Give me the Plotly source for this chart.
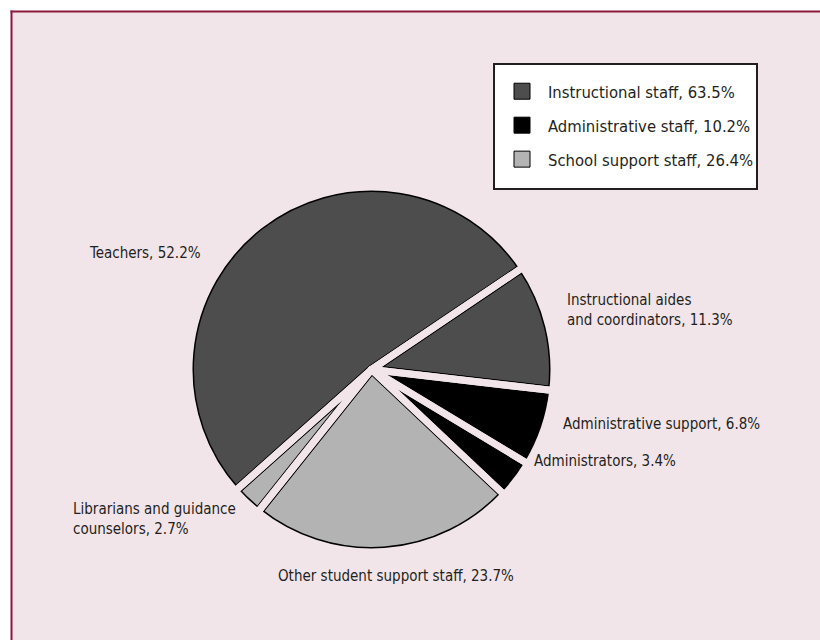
import plotly.graph_objects as go

# ---- data ----
slice_labels = [
    "Instructional aides<br>and coordinators, 11.3%",
    "Administrative support, 6.8%",
    "Administrators, 3.4%",
    "Other student support staff, 23.7%",
    "Librarians and guidance<br>counselors, 2.7%",
    "Teachers, 52.2%",
]
slice_values = [11.3, 6.8, 3.4, 23.7, 2.7, 52.2]
slice_group = ["Instructional", "Administrative", "Administrative", "Support", "Support", "Instructional"]

group_names = ["Instructional staff, 63.5%", "Administrative staff, 10.2%", "School support staff, 26.4%"]
group_keys = ["Instructional", "Administrative", "Support"]

# ---- styles / layout ----
W, H = 820, 640
BG = "#f2e5e9"
TXT = "#231f20"
FONT = "DejaVu Sans Condensed, Liberation Sans Narrow, Arial Narrow, sans-serif"
group_colors = {"Instructional": "#4d4d4d", "Administrative": "#000000", "Support": "#b3b3b3"}
slice_colors = [group_colors[g] for g in slice_group]

CX, CY, RA = 371.5, 369.5, 182.0

def dom(r):
    return dict(x=[(CX - r) / W, (CX + r) / W], y=[1 - (CY + r) / H, 1 - (CY - r) / H])

common = dict(values=slice_values, labels=slice_labels, sort=False, direction="clockwise",
              rotation=56, textinfo="none", showlegend=False)

fig = go.Figure()
# base pie: fills + thick black outline
fig.add_trace(go.Pie(domain=dom(RA), hoverinfo="label",
                     marker=dict(colors=slice_colors, line=dict(color="#000000", width=9)), **common))
# overlay pies: background-coloured strokes carve the gaps between slices
fig.add_trace(go.Pie(domain=dom(RA + 0.5), hoverinfo="skip",
                     marker=dict(colors=["rgba(0,0,0,0)"] * len(slice_values), line=dict(color=BG, width=7)),
                     **common))
fig.add_trace(go.Pie(domain=dom(RA + 4.5), hoverinfo="skip",
                     marker=dict(colors=["rgba(0,0,0,0)"] * len(slice_values), line=dict(color=BG, width=4)),
                     **common))
# legend entries
for name, key in zip(group_names, group_keys):
    fig.add_trace(go.Scatter(
        x=[None], y=[None], mode="markers", name=name, legendgroup=key,
        marker=dict(symbol="square", size=20, color=group_colors[key], line=dict(color="#000000", width=1)),
    ))

# slice label placement (pixels): x, y, xanchor
label_pos = [
    (565, 310, "left"),
    (561, 424, "left"),
    (532, 461, "left"),
    (395.5, 576, "center"),
    (71, 519, "left"),
    (203, 253, "right"),
]
annotations = []
for text, (px, py, xa) in zip(slice_labels, label_pos):
    annotations.append(dict(
        text=text, x=px / W, y=1 - py / H, xref="paper", yref="paper",
        xanchor=xa, yanchor="middle", align="left", showarrow=False,
        font=dict(family=FONT, size=15, color=TXT),
    ))

# legend frame (pixels)
LX0, LX1, LY0, LY1 = 494, 757, 64, 189

fig.update_layout(
    width=W, height=H, margin=dict(l=0, r=0, t=0, b=0),
    paper_bgcolor=BG, plot_bgcolor=BG,
    xaxis=dict(visible=False), yaxis=dict(visible=False),
    annotations=annotations,
    legend=dict(
        x=(LX0 + 2) / W, y=1 - 74 / H, xanchor="left", yanchor="top",
        bgcolor="rgba(0,0,0,0)", borderwidth=0,
        font=dict(family=FONT, size=16.5, color=TXT),
        itemwidth=42, tracegroupgap=9.5, traceorder="grouped",
    ),
    shapes=[
        dict(type="rect", xref="paper", yref="paper", x0=0, x1=11 / W, y0=0, y1=1,
             fillcolor="#ffffff", line=dict(width=0), layer="below"),
        dict(type="rect", xref="paper", yref="paper", x0=0, x1=1, y0=1 - 11 / H, y1=1,
             fillcolor="#ffffff", line=dict(width=0), layer="below"),
        dict(type="line", xref="paper", yref="paper", x0=10.5 / W, x1=1, y0=1 - 11.5 / H, y1=1 - 11.5 / H,
             line=dict(color="#8b1a3c", width=2), layer="below"),
        dict(type="line", xref="paper", yref="paper", x0=11.5 / W, x1=11.5 / W, y0=0, y1=1 - 10.5 / H,
             line=dict(color="#8b1a3c", width=2), layer="below"),
        dict(type="rect", xref="paper", yref="paper", x0=LX0 / W, x1=LX1 / W, y0=1 - LY1 / H, y1=1 - LY0 / H,
             fillcolor="#ffffff", line=dict(color=TXT, width=2), layer="below"),
    ],
)

fig.write_html("out.html")
